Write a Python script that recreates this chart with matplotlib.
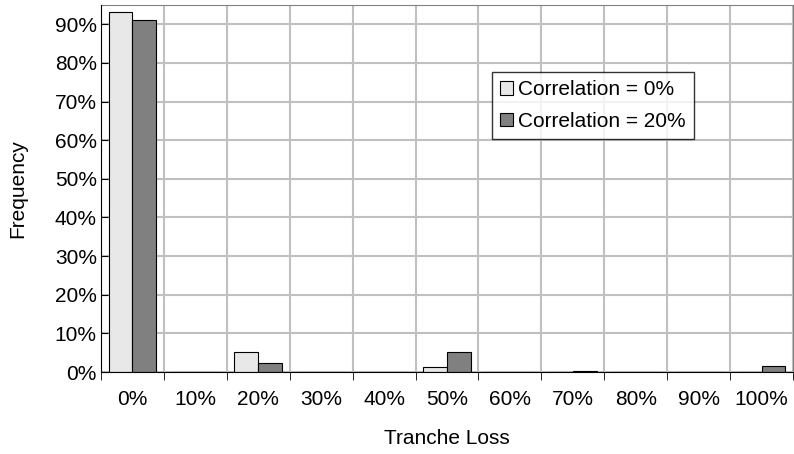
import numpy as np
import matplotlib.pyplot as plt

# ____________________________________________________________
# data

losses = ['0%', '10%', '20%', '30%', '40%', '50%', '60%', '70%', '80%', '90%', '100%']
freq_rho0 = [93.3, 0, 5.3, 0, 0, 1.3, 0, 0.1, 0, 0, 0]
freq_rho20 = [91.1, 0, 2.4, 0, 0, 5.3, 0, 0.2, 0, 0, 1.5]

# ____________________________________________________________
# plot

plt.rcParams['font.family'] = ['Liberation Sans', 'DejaVu Sans']
fs = 15

fig, ax = plt.subplots(figsize=(7.94, 4.54), dpi=100)
fig.subplots_adjust(left=0.1272, right=0.9987, top=0.989, bottom=0.1806)

x = np.arange(len(losses))
w = 0.38
ax.bar(x - w/2, freq_rho0, w, color='#e8e8e8', edgecolor='black', linewidth=0.8,
       label='Correlation = 0%', zorder=3)
ax.bar(x + w/2, freq_rho20, w, color='#808080', edgecolor='black', linewidth=0.8,
       label='Correlation = 20%', zorder=3)

ax.set_xlim(-0.5, len(losses) - 0.5)
ax.set_ylim(0, 95)
ax.set_yticks(np.arange(0, 100, 10))
ax.set_yticklabels(['%d%%' % v for v in range(0, 100, 10)])
ax.set_xticks(x)
ax.set_xticklabels(losses)
ax.tick_params(axis='x', length=0, pad=13, labelsize=fs)
ax.tick_params(axis='y', direction='in', length=5, labelsize=fs, pad=3)

# gridlines between categories, like the original
ax.set_xticks(np.arange(-0.5, len(losses)), minor=True)
ax.tick_params(axis='x', which='minor', direction='out', length=6)
ax.grid(axis='x', which='minor', color='#c0c0c0', linewidth=1.5, zorder=0)
ax.grid(axis='y', which='major', color='#c0c0c0', linewidth=1.5, zorder=0)

for s in ['left', 'bottom']:
    ax.spines[s].set_color('black')
    ax.spines[s].set_zorder(4)
for s in ['top', 'right']:
    ax.spines[s].set_color('#808080')

ax.set_xlabel('Tranche Loss', fontsize=fs)
ax.xaxis.set_label_coords(0.5, -0.18)
ax.xaxis.label.set_va('center')
ax.set_ylabel('Frequency', fontsize=fs)
ax.yaxis.set_label_coords(-0.12, 0.5)
ax.yaxis.label.set_va('center')

leg = ax.legend(loc='upper left', bbox_to_anchor=(0.565, 0.817), fontsize=fs,
                frameon=True, fancybox=False, edgecolor='black', handlelength=0.62,
                handleheight=0.62, handletextpad=0.25, borderpad=0.4, labelspacing=0.6,
                borderaxespad=0)
leg.get_frame().set_linewidth(1.0)

plt.savefig('out.png')
